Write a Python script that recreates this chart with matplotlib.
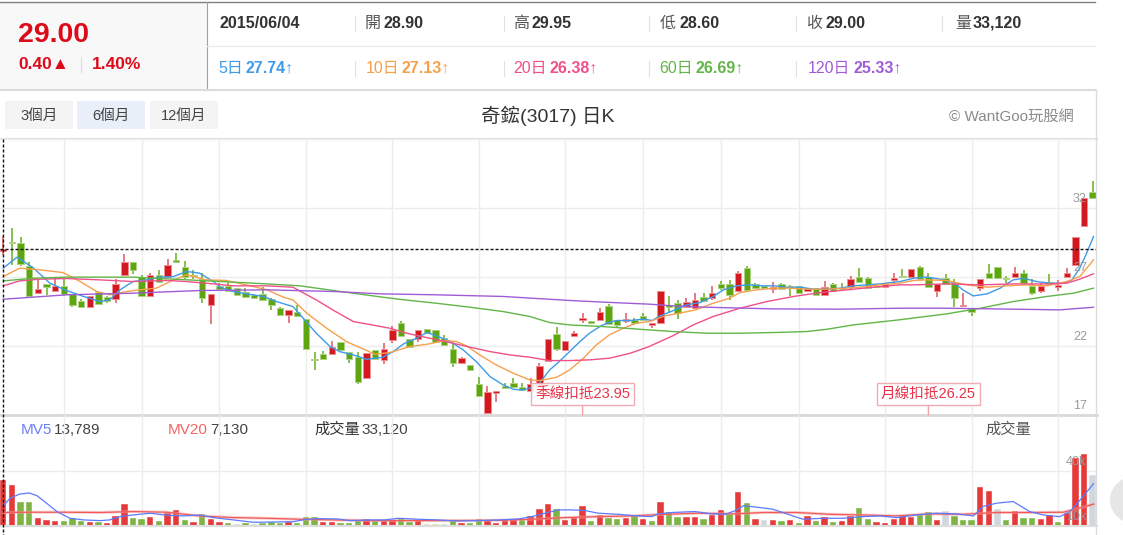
import matplotlib
matplotlib.use("Agg")
import matplotlib.pyplot as plt
from matplotlib.patches import Rectangle, Circle
from matplotlib.transforms import blended_transform_factory, offset_copy
import numpy as np

plt.rcParams['font.family'] = ['Liberation Sans', 'Noto Sans CJK TC', 'DejaVu Sans']

# ---- daily candles, oldest (hovered, 2015/06/04) on the left ----
opens = [28.90, 29.48, 29.44, 27.80, 25.82, 26.49, 25.94, 26.35, 25.77, 25.26,
         24.80, 25.87, 25.53, 25.38, 27.10, 28.04, 26.98, 25.58, 27.15, 27.02,
         28.23, 27.70, 27.10, 26.83, 24.97, 26.35, 26.35, 26.18, 25.87, 25.70,
         25.77, 25.38, 24.73, 24.25, 24.49, 23.93, 21.02, 21.42, 21.40, 22.27,
         21.54, 21.18, 19.71, 21.71, 20.99, 22.44, 23.65, 22.49, 22.49, 23.23,
         23.16, 22.56, 21.79, 20.80, 20.63, 19.25, 17.12, 18.60, 19.10, 19.35,
         19.01, 18.77, 19.01, 20.94, 22.85, 21.71, 22.73, 23.91, 23.84, 23.89,
         24.90, 23.89, 23.77, 23.89, 24.18, 23.52, 23.69, 24.97, 25.09, 24.80,
         24.73, 25.53, 25.45, 26.49, 26.49, 25.94, 27.63, 26.49, 26.35, 26.13,
         26.49, 26.26, 26.35, 25.94, 26.18, 25.70, 26.49, 26.18, 26.30, 26.97,
         26.90, 26.35, 26.25, 26.78, 27.07, 27.02, 27.70, 27.02, 25.94, 26.90,
         26.59, 24.87, 24.66, 26.18, 27.31, 27.70, 26.90, 26.98, 27.31, 26.35,
         25.94, 26.66, 26.25, 26.98, 27.87, 30.70, 33.11]
highs = [29.95, 30.53, 29.88, 28.11, 26.78, 26.49, 26.90, 26.90, 25.77, 25.38,
         25.62, 25.87, 25.60, 26.83, 28.67, 28.04, 27.15, 27.31, 27.46, 28.28,
         28.76, 28.18, 27.46, 27.31, 25.77, 26.54, 26.66, 26.18, 26.18, 25.78,
         26.25, 25.45, 24.85, 24.61, 24.97, 23.93, 21.59, 21.66, 22.39, 22.27,
         21.54, 21.59, 21.47, 21.71, 22.24, 23.45, 23.77, 22.49, 23.16, 23.23,
         23.16, 22.80, 22.24, 21.20, 20.63, 19.73, 19.10, 18.77, 19.30, 19.66,
         19.35, 19.66, 20.75, 22.51, 23.40, 22.39, 23.09, 24.37, 23.84, 24.73,
         25.05, 23.89, 24.37, 24.01, 24.37, 23.64, 25.94, 25.62, 25.33, 25.45,
         25.86, 25.86, 26.35, 26.73, 26.78, 27.40, 27.80, 26.59, 26.35, 26.66,
         26.54, 26.42, 26.35, 26.18, 26.18, 26.73, 26.59, 26.54, 27.07, 27.63,
         26.97, 26.35, 26.59, 27.31, 27.55, 27.60, 27.80, 27.31, 26.49, 27.22,
         26.83, 25.82, 24.66, 26.83, 27.94, 27.70, 27.07, 27.70, 27.46, 26.83,
         26.59, 27.22, 26.78, 27.63, 29.92, 32.70, 33.91]
lows = [28.60, 27.87, 27.82, 25.50, 25.82, 25.70, 25.94, 25.58, 24.80, 24.80,
        24.80, 25.00, 25.12, 25.09, 27.10, 27.22, 25.58, 25.58, 26.66, 27.02,
        28.06, 26.83, 26.83, 25.09, 23.59, 26.11, 25.94, 25.70, 25.53, 25.45,
        25.29, 24.61, 24.25, 23.69, 24.17, 21.78, 20.26, 21.06, 21.40, 21.71,
        20.74, 19.22, 19.71, 21.04, 20.70, 22.24, 22.75, 21.95, 22.32, 22.92,
        22.32, 22.08, 20.46, 20.80, 20.26, 18.38, 17.12, 17.97, 18.94, 19.01,
        18.81, 18.77, 19.01, 20.94, 21.64, 21.71, 22.73, 23.69, 23.69, 23.89,
        23.60, 23.36, 23.65, 23.52, 23.89, 23.28, 23.69, 24.49, 23.93, 24.80,
        24.73, 25.28, 25.33, 26.06, 25.33, 25.90, 25.94, 26.18, 26.18, 25.82,
        26.11, 25.62, 25.86, 25.94, 25.70, 25.70, 26.01, 26.11, 26.06, 26.66,
        26.18, 26.23, 26.25, 26.54, 26.98, 27.02, 26.83, 26.25, 25.53, 26.49,
        24.80, 24.85, 24.18, 25.94, 26.90, 26.90, 26.59, 26.98, 26.59, 25.70,
        25.82, 26.49, 26.01, 26.98, 27.87, 30.70, 32.70]
closes = [29.00, 29.44, 27.92, 25.65, 26.11, 26.25, 26.35, 25.77, 24.95, 24.80,
          25.62, 25.04, 25.26, 26.49, 28.04, 27.46, 25.58, 27.15, 26.66, 27.85,
          28.06, 26.98, 27.05, 25.45, 25.77, 26.11, 25.94, 25.70, 25.53, 25.45,
          25.29, 24.97, 24.25, 24.61, 24.17, 21.78, 20.99, 21.06, 21.95, 21.71,
          21.06, 19.42, 21.47, 21.04, 21.79, 23.16, 22.75, 21.95, 23.16, 22.92,
          22.32, 22.08, 20.80, 21.16, 20.26, 18.38, 18.69, 18.72, 18.94, 19.01,
          18.81, 19.25, 20.55, 22.51, 21.79, 22.39, 22.97, 23.95, 23.69, 24.49,
          23.60, 23.52, 23.96, 23.69, 23.89, 23.64, 25.94, 24.80, 24.41, 25.16,
          25.33, 25.28, 25.86, 26.18, 25.70, 27.31, 26.06, 26.18, 26.18, 26.30,
          26.11, 26.24, 25.86, 26.18, 25.70, 26.23, 26.01, 26.11, 26.83, 26.66,
          26.18, 26.23, 26.54, 26.90, 26.98, 27.60, 26.83, 26.25, 26.49, 26.49,
          25.45, 24.90, 24.42, 26.83, 26.90, 26.90, 26.86, 27.31, 26.59, 25.86,
          26.35, 26.49, 26.42, 27.31, 29.92, 32.70, 32.70]
volumes = [33120, 29400, 17200, 17200, 5600, 4200, 3400, 3400, 5400, 3700,
           2700, 2700, 2000, 7400, 15700, 5600, 4900, 6600, 3700, 9100,
           11500, 4200, 2700, 8300, 4900, 2700, 1700, 1200, 1700, 1200,
           1700, 2500, 1700, 2700, 2000, 6600, 6600, 2700, 2700, 2000,
           2000, 3900, 4900, 3400, 3700, 4400, 5600, 2700, 4400, 1200,
           1200, 1200, 4200, 2000, 2000, 4900, 4400, 2000, 4900, 4900,
           4200, 7400, 12300, 15700, 12300, 4200, 6100, 14500, 3400, 7800,
           5600, 4900, 5600, 6900, 4900, 3400, 17200, 9800, 6400, 6400,
           6400, 4900, 8100, 11500, 8300, 24500, 16400, 4900, 4200, 4200,
           3400, 4200, 2000, 7400, 3700, 6600, 2700, 3700, 7400, 13000,
           4900, 2700, 2000, 5100, 7400, 6600, 8300, 10000, 4400, 10800,
           7400, 4400, 4400, 28400, 25200, 11800, 4400, 10800, 5900, 5900,
           5100, 7600, 2700, 9100, 49000, 52000, 37000]
prev_close = 28.60
quote_date = '2015/06/04'

# ---- moving averages (position, value) ----
ma5_x = [0, 1.6, 3.5, 5.4, 7.3, 9.3, 11.2, 12.3, 13.5, 15.0, 16.6, 18.1, 19.7, 21.2, 22.7,
         24.3, 25.1, 26.6, 28.1, 30.1, 31.6, 33.5, 34.7, 36.2, 37.8, 38.9, 40.5, 42.0, 43.9,
         45.1, 46.3, 47.8, 49.0, 50.1, 51.7, 53.2, 54.7, 56.3, 57.8, 59.0, 60.1, 61.3, 62.0,
         63.2, 64.3, 65.5, 66.7, 67.8, 69.0, 69.8, 70.9, 72.5, 74.0, 75.1, 75.8, 77.5, 79.0,
         80.6, 82.1, 83.3, 84.8, 86.3, 87.9, 89.1, 90.6, 92.2, 93.7, 95.3, 96.8, 98.3, 99.9,
         101.4, 103.7, 105.3, 106.8, 108.4, 109.9, 111.1, 112.2, 113.8, 115.3, 116.8, 118.0,
         119.5, 121.1, 122.6, 123.6, 124.5, 125.3, 126.1]
ma5_y = [27.63, 28.43, 27.63, 26.54, 26.01, 25.58, 25.21, 25.33, 26.06, 26.66, 26.78, 26.98,
         27.02, 27.39, 27.27, 26.66, 26.25, 25.94, 25.77, 25.58, 25.21, 24.85, 24.00, 22.92,
         21.95, 21.59, 21.35, 21.03, 21.18, 21.59, 22.15, 22.56, 22.97, 22.73, 22.32, 21.71,
         20.87, 19.78, 19.18, 18.86, 18.81, 19.01, 19.30, 20.26, 20.87, 21.59, 22.32, 22.92,
         23.40, 23.65, 23.84, 23.84, 23.94, 23.84, 24.13, 24.56, 24.97, 25.14, 25.58, 26.06,
         26.35, 26.42, 26.35, 26.35, 26.25, 26.25, 26.11, 26.11, 26.18, 26.35, 26.42, 26.49,
         26.66, 26.90, 26.98, 26.83, 26.59, 26.01, 25.62, 25.77, 26.18, 26.78, 26.90, 26.66,
         26.54, 26.54, 26.78, 27.63, 28.71, 29.92]
ma10_x = [0, 1.9, 4.2, 6.9, 8.9, 10.8, 12.3, 14.3, 15.8, 17.7, 19.7, 21.2, 23.5, 25.8, 28.1,
          30.5, 32.4, 33.5, 35.1, 37.4, 39.7, 41.7, 43.0, 44.7, 47.0, 49.3, 50.9, 52.4, 53.6,
          55.1, 57.0, 59.0, 60.9, 62.0, 64.0, 65.5, 67.1, 68.6, 70.1, 71.7, 73.2, 74.8, 76.5,
          78.2, 80.1, 82.1, 84.0, 85.2, 87.1, 89.1, 91.0, 92.9, 95.3, 97.6, 99.9, 101.4, 103.7,
          105.3, 106.8, 109.1, 111.4, 113.8, 116.1, 118.4, 120.7, 123.0, 124.5, 126.1]
ma10_y = [27.02, 27.63, 27.51, 27.31, 26.66, 25.94, 25.70, 25.94, 26.06, 26.18, 26.78, 27.15,
          26.78, 26.74, 26.42, 26.06, 25.53, 25.33, 24.37, 23.28, 22.31, 21.76, 21.40, 21.52,
          21.95, 22.15, 22.39, 22.32, 22.00, 21.35, 20.63, 20.02, 19.54, 19.49, 19.73, 20.26,
          21.11, 22.08, 22.80, 23.28, 23.65, 23.77, 24.17, 24.37, 24.61, 25.09, 25.45, 25.86,
          26.06, 26.18, 26.18, 26.11, 26.11, 26.18, 26.30, 26.42, 26.54, 26.74, 26.78, 26.74,
          26.42, 26.25, 26.35, 26.42, 26.35, 26.66, 27.02, 28.23]
ma20_x = [0, 1.9, 4.2, 7.3, 11.2, 15.0, 18.9, 21.2, 24.3, 26.6, 30.5, 33.5, 36.2, 38.1, 40.5,
          42.4, 44.7, 47.0, 49.3, 51.7, 54.0, 56.3, 58.6, 60.9, 63.2, 65.5, 67.8, 70.1, 72.5,
          74.6, 77.5, 79.8, 82.1, 85.2, 88.3, 91.4, 94.5, 97.6, 100.6, 103.7, 105.3, 109.1,
          113.0, 116.8, 120.7, 123.0, 124.5, 126.1]
ma20_y = [26.35, 26.71, 26.83, 26.88, 26.78, 26.66, 26.74, 26.66, 26.49, 26.35, 26.35, 26.25,
          25.33, 24.61, 23.76, 23.55, 23.28, 22.87, 22.56, 22.24, 21.91, 21.59, 21.35, 21.18,
          20.94, 20.94, 20.99, 21.11, 21.47, 21.93, 22.75, 23.52, 24.13, 24.73, 25.21, 25.58,
          25.86, 26.06, 26.25, 26.42, 26.42, 26.49, 26.42, 26.49, 26.49, 26.54, 26.83, 27.22]
ma60_x = [0, 3.5, 7.3, 15.0, 22.7, 30.5, 34.3, 38.2, 43.6, 46.3, 50.1, 54.0, 57.8, 60.9, 63.2,
          65.5, 69.4, 74.2, 77.5, 81.4, 85.2, 89.1, 92.9, 95.3, 98.3, 103.5, 109.1, 113.0,
          116.8, 120.7, 123.8, 126.1]
ma60_y = [26.71, 26.90, 26.98, 26.98, 26.74, 26.49, 26.35, 26.01, 25.55, 25.34, 25.09, 24.80,
          24.49, 24.13, 23.69, 23.52, 23.40, 23.18, 23.04, 22.92, 22.92, 22.97, 23.04, 23.21,
          23.52, 23.88, 24.32, 24.73, 25.21, 25.58, 25.82, 26.18]
ma120_x = [0, 7.3, 15.0, 22.7, 30.5, 38.2, 43.6, 50.1, 57.8, 65.5, 69.4, 74.8, 77.5, 81.4,
           89.1, 96.8, 103.7, 109.1, 116.8, 122.2, 126.1]
ma120_y = [25.38, 25.70, 25.82, 26.01, 26.06, 25.94, 25.77, 25.70, 25.58, 25.29, 25.17, 25.02,
           24.90, 24.80, 24.68, 24.66, 24.73, 24.73, 24.66, 24.61, 24.80]
ma_periods = [5, 10, 20, 60, 120]
ma_head = [27.74, 27.13, 26.38, 26.69, 25.33]

mv5_x = [0, 0.8, 1.9, 3.0, 3.9, 5.0, 6.2, 7.7, 9.3, 11.2, 12.3, 13.5, 15.0, 17.0, 18.9, 20.8,
         22.7, 24.3, 26.6, 28.9, 31.2, 33.5, 35.1, 36.6, 38.6, 40.1, 42.4, 44.1, 45.7, 48.0,
         50.3, 52.6, 54.9, 57.3, 59.6, 61.1, 62.7, 64.2, 65.7, 67.3, 68.8, 71.1, 73.4, 75.0,
         75.7, 77.3, 80.0, 81.9, 83.5, 84.6, 85.6, 87.1, 89.0, 91.0, 92.5, 94.8, 97.1, 99.4,
         101.4, 103.3, 105.6, 107.9, 110.2, 112.2, 113.3, 114.9, 116.8, 118.7, 120.3, 122.2,
         123.4, 124.9, 126.1]
mv5_y = [14500, 20100, 23000, 23800, 21800, 16400, 10300, 5400, 4200, 3700, 4200, 6600, 7800,
         9100, 7600, 7100, 7800, 5900, 4200, 2500, 2700, 2900, 4700, 5100, 4900, 3700, 4200,
         4200, 5400, 4700, 4200, 3400, 3700, 4200, 4900, 6600, 9100, 11500, 11500, 11000, 9100,
         8300, 7100, 6600, 8600, 9600, 10300, 8600, 8300, 10800, 14500, 13500, 12000, 7800,
         4700, 5400, 5400, 6600, 7100, 5900, 7800, 9100, 8600, 7100, 14000, 16400, 17600,
         10300, 7800, 6600, 10300, 21300, 30600]
mv20_x = [0, 3.5, 7.3, 11.2, 15.0, 18.9, 22.7, 26.6, 30.5, 34.3, 38.2, 42.4, 49.5, 57.3, 61.1,
          65.0, 68.8, 72.7, 76.5, 80.4, 84.6, 87.9, 91.7, 95.6, 99.4, 103.3, 107.1, 111.0,
          114.9, 118.7, 122.6, 124.9, 126.1]
mv20_y = [9600, 9800, 9800, 9600, 10300, 9800, 7100, 5900, 5400, 4700, 4200, 3700, 3700, 3900,
          4700, 5900, 6600, 7100, 8300, 9100, 8600, 9600, 9600, 8300, 7800, 7100, 8600, 8300,
          9600, 9600, 9800, 13500, 15700]
mv5_head = 13789
mv20_head = 7130

price_ticks = [17, 22, 27, 32, 37]
grid_days = [7, 16, 25, 35, 45, 55, 65, 74, 83, 92, 102, 112, 122]
faded_bars = [27, 29, 49, 50, 51]

# ---- colours ----
RED = '#dd0a1a'
MA_COLORS = ['#3d9be9', '#f7a04b', '#f0508a', '#62b548', '#a05cd6']
UP_BODY, DN_BODY = '#d3181f', '#5ea60f'

W, H = 1123, 535
fig = plt.figure(figsize=(W / 100, H / 100), dpi=100)


def pane(x0, y0, x1, y1, z=1):
    return fig.add_axes([x0 / W, 1 - y1 / H, (x1 - x0) / W, (y1 - y0) / H], zorder=z)


bg = pane(0, 0, W, H, 0)
bg.set_xlim(0, W)
bg.set_ylim(H, 0)
bg.axis('off')

# header frame
bg.add_patch(Rectangle((0, 2), 207, 88, color='#f8f8f8', lw=0))
bg.plot([0, 1095], [1.7, 1.7], color='#808080', lw=1)
bg.plot([207, 207], [2, 90], color='#a0a0a0', lw=0.8)
bg.plot([207, 1095], [46, 46], color='#ebebeb', lw=1)
bg.plot([0, 1095], [90, 90], color='#dcdcdc', lw=1.5)

# quote box
chg = closes[0] - prev_close
bg.text(18, 35, f'{closes[0]:.2f}', fontsize=20.5, fontweight='bold', color=RED, va='center')
bg.text(18, 64.5, f'{chg:.2f}▲', fontsize=12.5, fontweight='bold', color=RED, va='center')
bg.plot([81, 81], [57, 72], color='#dddddd', lw=0.8)
bg.text(92, 64.5, f'{chg / prev_close * 100:.2f}%', fontsize=12.5, fontweight='bold',
        color=RED, va='center')

# row 1
hs = 11.5
bg.text(220, 23.3, quote_date, fontsize=hs, fontweight='bold', color='#333', va='center')
row1 = [('開', opens[0]), ('高', highs[0]), ('低', lows[0]), ('收', closes[0])]
for x, (lab, val) in zip([365, 513, 660, 806], row1):
    bg.text(x, 23.3, lab, fontsize=hs, color='#555', va='center')
    bg.text(x + 19, 23.3, f'{val:.2f}', fontsize=hs, fontweight='bold', color='#333', va='center')
bg.text(955, 23.3, '量', fontsize=hs, color='#555', va='center')
bg.text(973, 23.3, f'{volumes[0]:,}', fontsize=hs, fontweight='bold', color='#333', va='center')
for x in [355, 504, 649, 796, 942]:
    bg.plot([x, x], [16, 31], color='#e2e2e2', lw=0.8)

# row 2
for lx, vx, p, v, col in zip([218, 366, 513, 659, 808], [246, 402, 550, 696, 853],
                             ma_periods, ma_head, MA_COLORS):
    bg.text(lx, 68.3, f'{p}日', fontsize=hs, color=col, va='center')
    bg.text(vx, 68.3, f'{v:.2f}↑', fontsize=hs, fontweight='bold', color=col, va='center')
for x in [355, 504, 649, 796]:
    bg.plot([x, x], [61, 76], color='#e2e2e2', lw=0.8)

# range buttons + title
for (x0, x1), lab, fc in zip([(5, 73), (77, 145), (150, 218)], ['3個月', '6個月', '12個月'],
                             ['#f4f4f4', '#e8eff8', '#f4f4f4']):
    bg.add_patch(Rectangle((x0, 101), x1 - x0, 28, color=fc, lw=0))
    bg.text((x0 + x1) / 2, 115.5, lab, fontsize=10.5, color='#444', ha='center', va='center')
bg.text(547.5, 115.5, '奇鋐(3017) 日K', fontsize=14, color='#333', ha='center', va='center')
bg.text(1074, 117, '© WantGoo玩股網', fontsize=11, color='#8a8a8a', ha='right', va='center')

# volume pane legends
vs = 11
bg.text(21, 430, 'MV5', fontsize=vs, color='#6b80f5', va='center')
bg.text(54, 430, f'{mv5_head:,}', fontsize=vs, color='#444', va='center')
bg.text(168, 430, 'MV20', fontsize=vs, color='#f06666', va='center')
bg.text(210, 430, f'{mv20_head:,}', fontsize=vs, color='#444', va='center')
bg.text(314, 430, '成交量', fontsize=vs, color='#333', va='center')
bg.text(361, 430, f'{volumes[0]:,}', fontsize=vs, color='#444', va='center')
bg.text(985, 430, '成交量', fontsize=vs, color='#555', va='center')

n = len(closes)
idx = np.arange(n)
o, h, l, c = map(np.array, (opens, highs, lows, closes))
XL = (-0.38, 126.5)

# ---- price pane ----
ax = pane(0, 138.7, 1097, 415)
ax.set_facecolor('none')
ax.set_xlim(*XL)
ax.set_ylim(price_ticks[0], price_ticks[-1])
ax.set_yticks(price_ticks)
ax.set_xticks(grid_days)
ax.grid(True, color='#ededed', lw=1, zorder=0)
ax.tick_params(length=0, labelleft=False, labelbottom=False)
for s in ['top', 'right', 'left']:
    ax.spines[s].set_visible(False)
ax.spines['bottom'].set_color('#d9d9d9')
ax.spines['bottom'].set_linewidth(2)
ax.axhline(price_ticks[-1], color='#e2e2e2', lw=1.5, clip_on=False, zorder=0)

up = c >= o
ax.vlines(idx, l, h, colors=np.where(up, '#dc5a5e', '#6aae24'), lw=1.1, zorder=3)
ax.bar(idx, np.maximum(np.abs(c - o), 0.08), 0.74, bottom=np.minimum(o, c),
       color=np.where(up, UP_BODY, DN_BODY), edgecolor=np.where(up, '#ec9093', '#acd484'),
       lw=0.7, zorder=3)

for xs, ys, col in zip([ma5_x, ma10_x, ma20_x, ma60_x, ma120_x],
                       [ma5_y, ma10_y, ma20_y, ma60_y, ma120_y], MA_COLORS):
    ax.plot(xs, ys, color=col, lw=1.0, zorder=4, solid_joinstyle='round')

ax.axhline(closes[0], color='#111', lw=1.0, dashes=(2.2, 1.4), zorder=5)

lab_tr = offset_copy(blended_transform_factory(ax.transAxes, ax.transData), fig=fig,
                     x=0, y=9, units='dots')
for t in price_ticks[:-1]:
    ax.text(0.9845, t, str(t), transform=lab_tr, ha='center', va='center', fontsize=9,
            color='#9a9a9a', zorder=6)

for k, name in [(60, '季線扣抵'), (20, '月線扣抵')]:
    j = n - k
    ax.annotate(f'{name}{closes[j]:.2f}', xy=(j, price_ticks[0]), xytext=(0, 14),
                textcoords='offset pixels', ha='center', va='bottom', fontsize=10.5,
                color='#e6334a', zorder=7,
                bbox=dict(boxstyle='square,pad=0.3', fc='white', ec='#f3a3ab', lw=1, alpha=0.9),
                arrowprops=dict(arrowstyle='-', color='#f3a3ab', lw=1, shrinkA=0, shrinkB=0))

# ---- volume pane ----
av = pane(0, 415, 1097, 525.7)
av.set_facecolor('none')
av.set_xlim(*XL)
av.set_ylim(0, 40000 * 110.7 / 55)
av.set_yticks([40000])
av.set_xticks(grid_days)
av.grid(True, color='#ededed', lw=1, zorder=0)
av.tick_params(length=0, labelleft=False, labelbottom=False)
for s in ['top', 'right', 'left']:
    av.spines[s].set_visible(False)
av.spines['bottom'].set_color('#dddddd')
av.spines['bottom'].set_linewidth(1.5)

prev = np.r_[prev_close, c[:-1]]
vcol = np.where(c > prev, '#e63a3a', np.where(c < prev, '#7db443', '#d0d8de')).astype(object)
vcol[faded_bars] = '#c9e0b1'
av.bar(idx, volumes, 0.74, color=list(vcol), edgecolor='white', lw=0.3, zorder=2)
av.plot(mv20_x, mv20_y, color='#f7a0a0', lw=2.2, alpha=0.5, zorder=3)
av.plot(mv20_x, mv20_y, color='#f05a5a', lw=0.9, zorder=3)
av.plot(mv5_x, mv5_y, color='#5b7bff', lw=0.9, zorder=3)

vlab_tr = offset_copy(blended_transform_factory(av.transAxes, av.transData), fig=fig,
                      x=0, y=9, units='dots')
av.text(0.981, 40000, '40k', transform=vlab_tr, ha='center', va='center', fontsize=9,
        color='#9a9a9a', zorder=6)
av.text(0.981, 0, '10k', transform=vlab_tr, ha='center', va='center', fontsize=9,
        color='#9a9a9a', zorder=6)

# ---- overlay: crosshair, border, scroll button ----
top = pane(0, 0, W, H, 5)
top.set_xlim(0, W)
top.set_ylim(H, 0)
top.axis('off')
xc = ax.transData.transform((0, price_ticks[0]))[0]
top.plot([xc, xc], [139, 535], color='#111', lw=1.0, dashes=(2.2, 1.4))
top.plot([1096, 1096], [90, 535], color='#dcdcdc', lw=1)
top.add_patch(Circle((1133, 500), 23, color='#e6e6e6', lw=0))

fig.savefig('out.png', dpi=100)
